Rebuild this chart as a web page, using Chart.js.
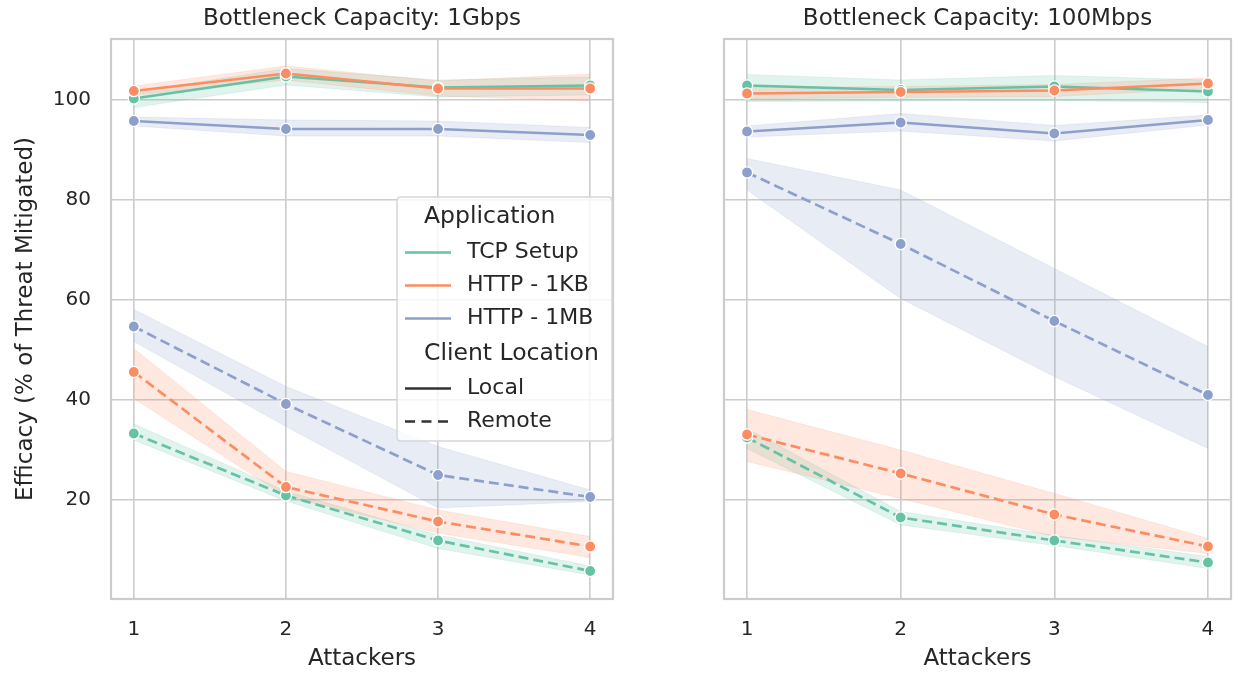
<!DOCTYPE html>
<html>
<head>
<meta charset="utf-8">
<script src="https://cdn.jsdelivr.net/npm/chart.js@4.4.1/dist/chart.umd.min.js"></script>
<style>
  html, body { margin: 0; padding: 0; background: #fff; }
  #wrap { position: relative; width: 1238px; height: 674px; }
  canvas { position: absolute; top: 0; }
  #left { left: 0; }
  #right { left: 620px; }
</style>
</head>
<body>
<div id="wrap">
  <canvas id="left" width="620" height="674"></canvas>
  <canvas id="right" width="618" height="674"></canvas>
</div>
<script>
// data
const attackers = [1, 2, 3, 4];
const apps = ["TCP Setup", "HTTP - 1KB", "HTTP - 1MB"];
const locations = ["Local", "Remote"];
const yTicks = [20, 40, 60, 80, 100];
const panelTitles = ["Bottleneck Capacity: 1Gbps", "Bottleneck Capacity: 100Mbps"];

// 1Gbps panel (mean, ci low, ci high)
const gTcpLocal = [100.3, 104.7, 102.5, 102.9];
const gTcpLocalLo = [98.5, 103.0, 100.6, 101.0];
const gTcpLocalHi = [101.6, 106.3, 104.0, 104.6];
const gTcpRemote = [33.3, 20.9, 11.9, 5.8];
const gTcpRemoteLo = [32.0, 19.8, 10.3, 5.0];
const gTcpRemoteHi = [35.2, 21.8, 13.0, 6.8];
const gKbLocal = [101.8, 105.3, 102.3, 102.3];
const gKbLocalLo = [101.0, 104.0, 100.8, 99.8];
const gKbLocalHi = [102.8, 106.8, 103.8, 105.2];
const gKbRemote = [45.6, 22.6, 15.7, 10.7];
const gKbRemoteLo = [40.3, 20.7, 13.4, 8.5];
const gKbRemoteHi = [50.3, 25.7, 18.0, 12.7];
const gMbLocal = [95.8, 94.2, 94.2, 93.0];
const gMbLocalLo = [94.8, 92.8, 92.8, 91.5];
const gMbLocalHi = [96.6, 96.0, 95.8, 94.5];
const gMbRemote = [54.7, 39.2, 25.0, 20.6];
const gMbRemoteLo = [51.7, 34.7, 18.4, 19.7];
const gMbRemoteHi = [58.1, 42.7, 30.7, 22.0];

// 100Mbps panel
const mTcpLocal = [102.9, 102.0, 102.7, 101.7];
const mTcpLocalLo = [99.7, 99.8, 99.9, 99.5];
const mTcpLocalHi = [105.1, 104.0, 104.9, 104.0];
const mTcpRemote = [32.5, 16.5, 11.9, 7.5];
const mTcpRemoteLo = [30.3, 15.0, 10.9, 6.3];
const mTcpRemoteHi = [34.3, 17.7, 12.9, 8.7];
const mKbLocal = [101.3, 101.6, 101.9, 103.3];
const mKbLocalLo = [100.2, 100.5, 100.7, 102.2];
const mKbLocalHi = [102.5, 102.7, 103.1, 104.4];
const mKbRemote = [33.1, 25.3, 17.1, 10.7];
const mKbRemoteLo = [27.7, 20.3, 12.7, 9.3];
const mKbRemoteHi = [38.1, 30.0, 21.3, 12.3];
const mMbLocal = [93.7, 95.5, 93.3, 96.0];
const mMbLocalLo = [92.6, 93.8, 91.8, 95.0];
const mMbLocalHi = [94.8, 97.3, 94.9, 97.0];
const mMbRemote = [85.5, 71.2, 55.8, 41.0];
const mMbRemoteLo = [82.0, 60.3, 44.7, 30.3];
const mMbRemoteHi = [88.3, 82.0, 66.3, 50.7];

const appColors = ["#66c2a5", "#fc8d62", "#8da0cb"];
const textColor = "#262626";
const gridColor = "#cccccc";

Chart.defaults.font.family = "'DejaVu Sans', sans-serif";
Chart.defaults.color = textColor;

// seaborn draws hue x style groups in this order, later ones on top
const gbpsSeries = [
  { app: 0, loc: 0, mean: gTcpLocal, lo: gTcpLocalLo, hi: gTcpLocalHi },
  { app: 0, loc: 1, mean: gTcpRemote, lo: gTcpRemoteLo, hi: gTcpRemoteHi },
  { app: 1, loc: 0, mean: gKbLocal, lo: gKbLocalLo, hi: gKbLocalHi },
  { app: 1, loc: 1, mean: gKbRemote, lo: gKbRemoteLo, hi: gKbRemoteHi },
  { app: 2, loc: 0, mean: gMbLocal, lo: gMbLocalLo, hi: gMbLocalHi },
  { app: 2, loc: 1, mean: gMbRemote, lo: gMbRemoteLo, hi: gMbRemoteHi }
];
const mbpsSeries = [
  { app: 0, loc: 0, mean: mTcpLocal, lo: mTcpLocalLo, hi: mTcpLocalHi },
  { app: 0, loc: 1, mean: mTcpRemote, lo: mTcpRemoteLo, hi: mTcpRemoteHi },
  { app: 1, loc: 0, mean: mKbLocal, lo: mKbLocalLo, hi: mKbLocalHi },
  { app: 1, loc: 1, mean: mKbRemote, lo: mKbRemoteLo, hi: mKbRemoteHi },
  { app: 2, loc: 0, mean: mMbLocal, lo: mMbLocalLo, hi: mMbLocalHi },
  { app: 2, loc: 1, mean: mMbRemote, lo: mMbRemoteLo, hi: mMbRemoteHi }
];

function fade(hex, a) {
  const n = parseInt(hex.slice(1), 16);
  return "rgba(" + (n >> 16) + "," + ((n >> 8) & 255) + "," + (n & 255) + "," + a + ")";
}

function pts(arr) {
  return attackers.map(function (x, i) { return { x: x, y: arr[i] }; });
}

// frame round the plot + panel title
const panelDecor = {
  id: "panelDecor",
  beforeDatasetsDraw(chart) {
    const a = chart.chartArea, ctx = chart.ctx;
    ctx.save();
    ctx.strokeStyle = gridColor;
    ctx.lineWidth = 2.2;
    ctx.strokeRect(a.left, a.top, a.right - a.left, a.bottom - a.top);
    ctx.restore();
  },
  afterDraw(chart, args, opts) {
    const a = chart.chartArea, ctx = chart.ctx;
    ctx.save();
    ctx.fillStyle = textColor;
    ctx.font = "23px 'DejaVu Sans'";
    ctx.textAlign = "center";
    ctx.textBaseline = "middle";
    ctx.fillText(opts.text, (a.left + a.right) / 2, 19);
    ctx.restore();
  }
};

// seaborn style legend with two sub titles
const sbLegend = {
  id: "sbLegend",
  afterDatasetsDraw(chart, args, opts) {
    if (!opts.show) return;
    const ctx = chart.ctx;
    const bx = 397, by = 197, bw = 215, bh = 244, r = 4;
    ctx.save();
    ctx.beginPath();
    ctx.moveTo(bx + r, by);
    ctx.lineTo(bx + bw - r, by);
    ctx.quadraticCurveTo(bx + bw, by, bx + bw, by + r);
    ctx.lineTo(bx + bw, by + bh - r);
    ctx.quadraticCurveTo(bx + bw, by + bh, bx + bw - r, by + bh);
    ctx.lineTo(bx + r, by + bh);
    ctx.quadraticCurveTo(bx, by + bh, bx, by + bh - r);
    ctx.lineTo(bx, by + r);
    ctx.quadraticCurveTo(bx, by, bx + r, by);
    ctx.closePath();
    ctx.fillStyle = "rgba(255,255,255,0.8)";
    ctx.fill();
    ctx.strokeStyle = "#d6d6d6";
    ctx.lineWidth = 1.5;
    ctx.stroke();

    const rows = [{ text: "Application", sub: true, y: 217 }];
    apps.forEach(function (a, i) {
      rows.push({ text: a, color: appColors[i], dash: [], y: 252.5 + i * 33 });
    });
    rows.push({ text: "Client Location", sub: true, y: 353.5 });
    locations.forEach(function (l, i) {
      rows.push({ text: l, color: "#333333", dash: i === 1 ? [10, 6.5] : [], y: 388.5 + i * 33 });
    });

    ctx.textBaseline = "middle";
    ctx.textAlign = "left";
    rows.forEach(function (row) {
      ctx.fillStyle = textColor;
      if (row.sub) {
        ctx.font = "23.5px 'DejaVu Sans'";
        ctx.fillText(row.text, 424, row.y);
        return;
      }
      ctx.strokeStyle = row.color;
      ctx.lineWidth = 2.7;
      ctx.setLineDash(row.dash);
      ctx.beginPath();
      ctx.moveTo(405, row.y);
      ctx.lineTo(451, row.y);
      ctx.stroke();
      ctx.setLineDash([]);
      ctx.font = "22px 'DejaVu Sans'";
      ctx.fillText(row.text, 467, row.y);
    });
    ctx.restore();
  }
};

function makePanel(canvasId, series, title, first) {
  const datasets = [];
  series.forEach(function (s, k) {
    const color = appColors[s.app];
    datasets.push({
      data: pts(s.hi), borderColor: fade(color, 0.15), borderWidth: 1,
      pointRadius: 0, fill: false, order: 1000 - k
    });
    datasets.push({
      data: pts(s.lo), borderColor: fade(color, 0.15), borderWidth: 1,
      pointRadius: 0, fill: "-1", backgroundColor: fade(color, 0.2), order: 1000 - k
    });
    datasets.push({
      data: pts(s.mean),
      borderColor: color,
      borderWidth: 2.7,
      borderDash: s.loc === 1 ? [10, 5] : [],
      pointRadius: 5.6,
      pointBackgroundColor: color,
      pointBorderColor: "#ffffff",
      pointBorderWidth: 1.4,
      fill: false,
      tension: 0,
      order: 100 - k
    });
  });

  return new Chart(document.getElementById(canvasId), {
    type: "line",
    data: { datasets: datasets },
    plugins: [panelDecor, sbLegend],
    options: {
      responsive: false,
      devicePixelRatio: 1,
      animation: false,
      layout: { padding: { top: 39, right: 6, left: 0, bottom: 0 } },
      plugins: {
        legend: { display: false },
        tooltip: { enabled: false },
        panelDecor: { text: title },
        sbLegend: { show: first }
      },
      scales: {
        x: {
          type: "linear",
          min: 0.85,
          max: 4.15,
          afterBuildTicks: function (s) { s.ticks = attackers.map(function (v) { return { value: v }; }); },
          afterFit: function (s) { s.height = 75; },
          grid: { color: gridColor, lineWidth: 1.6, drawTicks: false },
          border: { display: false },
          ticks: { font: { size: 20 }, padding: 19, maxRotation: 0, color: textColor },
          title: {
            display: true, text: "Attackers", color: textColor,
            font: { size: 23 }, padding: { top: 0, bottom: 1.5 }
          }
        },
        y: {
          type: "linear",
          min: 0.2,
          max: 112.2,
          afterBuildTicks: function (s) { s.ticks = yTicks.map(function (v) { return { value: v }; }); },
          afterFit: function (s) { s.width = first ? 111 : 104; },
          grid: { color: gridColor, lineWidth: 1.6, drawTicks: false },
          border: { display: false },
          ticks: { display: first, font: { size: 20 }, padding: 20, color: textColor },
          title: {
            display: first, text: "Efficacy (% of Threat Mitigated)", color: textColor,
            font: { size: 23 }, padding: { top: 12, bottom: 0 }
          }
        }
      }
    }
  });
}

makePanel("left", gbpsSeries, panelTitles[0], true);
makePanel("right", mbpsSeries, panelTitles[1], false);
</script>
</body>
</html>
